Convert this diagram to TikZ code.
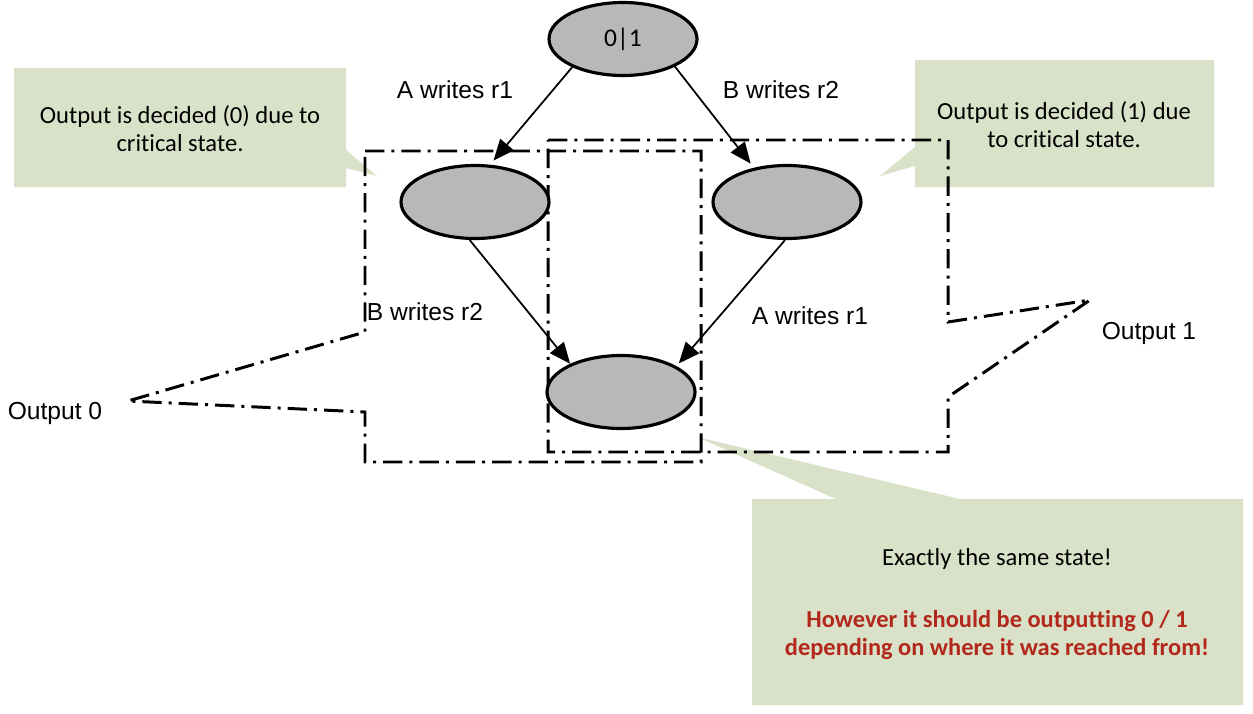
\documentclass[tikz,border=0pt]{standalone}
\usepackage{fontspec}
\setmainfont[Ligatures=CommonOff]{Carlito}
\newfontfamily\arialf{Liberation Sans}
\usetikzlibrary{shapes.geometric,arrows.meta}
\definecolor{calloutgreen}{RGB}{217,226,200}
\definecolor{stategray}{RGB}{184,184,184}
\definecolor{warnred}{RGB}{178,40,28}
\begin{document}
\begin{tikzpicture}[x=0.02cm,y=-0.02cm,
 state/.style={ellipse,draw=black,line width=1.8pt,fill=stategray,minimum width=2.96cm,minimum height=1.46cm,inner sep=0pt,font=\fontsize{14.5}{16}\selectfont},
 arr/.style={line width=1pt,-{Triangle[length=12pt,width=10pt]}},
 lbl/.style={font=\arialf\fontsize{14}{16}\selectfont,inner sep=0pt},
 ddot/.style={line width=1.7pt,dash pattern=on 11pt off 4pt on 1.7pt off 4pt},
 bubble/.style={fill=calloutgreen},
 btext/.style={align=center,font=\fontsize{14}{16}\selectfont,inner sep=0pt}]
\useasboundingbox (0,0) rectangle (1253,713);

% callouts
\fill[bubble] (14,68) -- (346,68) -- (346,150) -- (377,176) -- (346,168) -- (346,187) -- (14,187) -- cycle;
\node[btext] (c0) at (180,129) {Output is decided (0) due to\\critical state.};
\fill[bubble] (915,60) -- (1214,60) -- (1214,187) -- (915,187) -- (915,166) -- (880,176) -- (915,147) -- cycle;
\node[btext] (c1) at (1064,125) {Output is decided (1) due\\to critical state.};
\fill[bubble] (752,499) -- (836,499) -- (697,437) -- (960,499) -- (1243,499) -- (1243,705) -- (752,705) -- cycle;
\node[btext] (c2a) at (997,559) {Exactly the same state!};
\node[btext,text=warnred,font=\bfseries\fontsize{13.9}{15.4}\selectfont] (c2b) at (997,635) {However it should be outputting 0 / 1\\depending on where it was reached from!};

% dash-dot regions
\coordinate (o0) at (128,401);
\coordinate (o1) at (1090,300);
\draw[ddot] (365,151) -- (701,151) -- (701,462) -- (365,462) -- (365,412) -- (o0) -- (365,332) -- cycle;
\draw[ddot] (548,140) -- (948,140) -- (948,322) -- (o1) -- (948,397) -- (948,452) -- (548,452) -- cycle;

% states
\node[state] (s0) at (623,39) {0|1};
\node[state] (sa) at (475,202) {};
\node[state] (sb) at (787,202) {};
\node[state] (sab) at (621,392) {};

% transitions
\draw[arr,shorten >=3pt] (s0.209) -- (sa.68);
\draw[arr,shorten >=3pt] (s0.332) -- (sb.134);
\draw[arr] (sa.262) -- (sab.151);
\draw[arr,shorten >=2pt] (sb.267) -- (sab.25);

% labels
\node[lbl] (l1) at (455,90) {A writes r1};
\node[lbl] (l2) at (781,90) {B writes r2};
\node[lbl] (l3) at (425,312) {B writes r2};
\node[lbl] (l4) at (810,316) {A writes r1};
\node[lbl] (out0) at (55,413) {Output 0};
\node[lbl] (out1) at (1149,333) {Output 1};
\end{tikzpicture}
\end{document}
